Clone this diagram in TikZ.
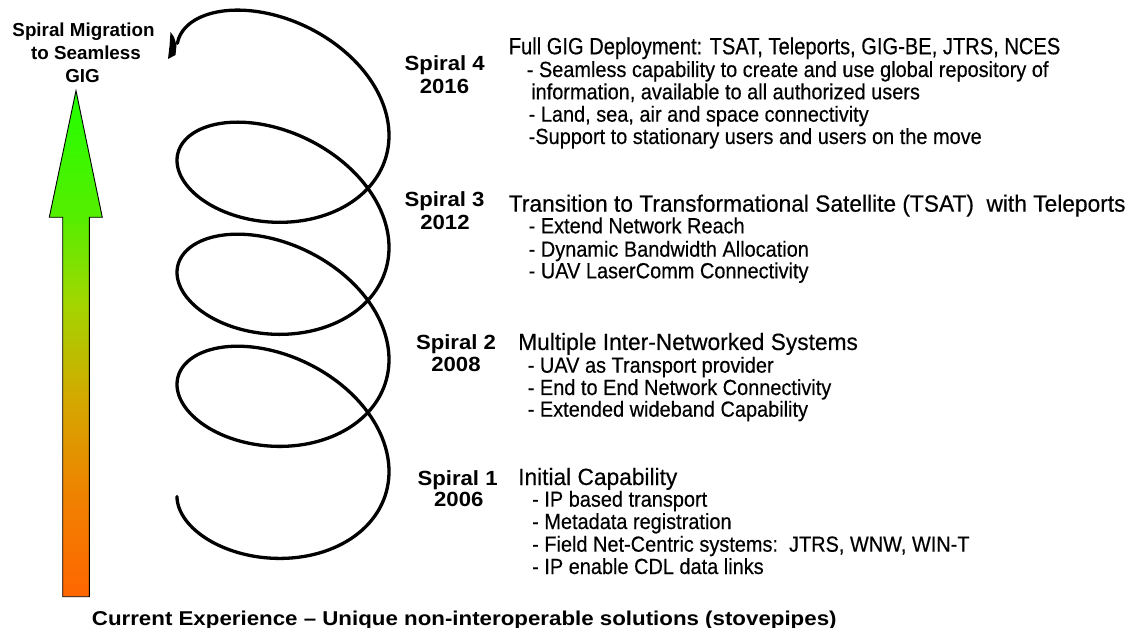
\documentclass[tikz,border=0pt]{standalone}
\usepackage{fontspec}
\setmainfont{Liberation Sans}
\newfontfamily\regf[FakeStretch=0.91,FakeBold=0.35]{Liberation Sans}
\newfontfamily\ttlf[FakeStretch=0.967,FakeBold=0.35]{Liberation Sans}
\newfontfamily\ttlnf[FakeStretch=0.856,FakeBold=0.35]{Liberation Sans}
\newfontfamily\labf[FakeStretch=1.08]{Liberation Sans Bold}
\newfontfamily\botf[FakeStretch=1.115]{Liberation Sans Bold}
\newfontfamily\migf{Liberation Sans Bold}
\definecolor{cA}{RGB}{255,102,0}
\definecolor{cB}{RGB}{240,128,0}
\definecolor{cC}{RGB}{212,168,0}
\definecolor{cD}{RGB}{160,215,0}
\definecolor{cE}{RGB}{85,238,0}
\definecolor{cF}{RGB}{34,255,0}
\pgfdeclareverticalshading{arrowshade}{100bp}{color(0bp)=(cA); color(25bp)=(cA); color(34.6bp)=(cB); color(44.5bp)=(cC); color(54.3bp)=(cD); color(62.5bp)=(cE); color(75bp)=(cF); color(100bp)=(cF)}
\tikzset{
  lab/.style={font=\labf\fontsize{20.5}{22}\selectfont, anchor=base, inner sep=0pt},
  ttl/.style={font=\ttlf\fontsize{23.5}{26}\selectfont, anchor=base west, inner sep=0pt},
  ttln/.style={font=\ttlnf\fontsize{23.5}{26}\selectfont, anchor=base west, inner sep=0pt},
  itm/.style={font=\regf\fontsize{21.9}{24}\selectfont, anchor=base west, inner sep=0pt},
  mig/.style={font=\migf\fontsize{18.8}{21}\selectfont, anchor=base, inner sep=0pt},
  bot/.style={font=\botf\fontsize{20}{22}\selectfont, anchor=base west, inner sep=0pt},
  helix/.style={line width=3.3pt, line cap=round, line join=round},
}
\begin{document}
\begin{tikzpicture}[x=1pt, y=-1pt]
\fill[white] (0,0) rectangle (1128,628);
\useasboundingbox (0,0) rectangle (1128,628);

% progress arrow
\shade[shading=arrowshade, draw=black, line width=0.9pt]
  (76,90.7) -- (102.3,217.3) -- (89.3,217.3) -- (89.3,596.7) -- (62.7,596.7) -- (62.7,217.3) -- (49.3,217.3) -- cycle;

% helix
\draw[helix, domain=0:25.05, samples=500, smooth, variable=\t]
  plot ({283-106*cos(\t r)}, {512-17.83*\t+76*sin((\t-0.206) r)});
\fill (170.5,32) -- (174,37) -- (176.5,45) -- (175.5,55) -- (168,59) -- (169.5,46) -- cycle;

% left title
\node[mig] (m1) at (83.5,36.7) {Spiral Migration};
\node[mig] (m2) at (86,60) {to Seamless};
\node[mig] (m3) at (82.5,82.7) {GIG};

% spiral labels
\node[lab] (s4) at (444.7,71) {Spiral 4};
\node[lab] (y4) at (444.5,93.3) {2016};
\node[lab] (s3) at (444.5,206.7) {Spiral 3};
\node[lab] (y3) at (445,229.3) {2012};
\node[lab] (s2) at (456,350) {Spiral 2};
\node[lab] (y2) at (456,371.7) {2008};
\node[lab] (s1) at (457.6,485) {Spiral 1};
\node[lab] (y1) at (458.8,506.7) {2006};

% spiral 4
\node[ttln] (t4) at (508.6,54.3) {Full GIG Deployment: TSAT, Teleports, GIG-BE, JTRS, NCES};
\node[itm] (i4a) at (526.6,77) {- Seamless capability to create and use global repository of};
\node[itm] (i4b) at (531,99.3) {information, available to all authorized users};
\node[itm] (i4c) at (528.5,121.7) {- Land, sea, air and space connectivity};
\node[itm] (i4d) at (528.5,144) {-Support to stationary users and users on the move};

% spiral 3
\node[ttl] (t3) at (508.6,211.7) {Transition to Transformational Satellite (TSAT)\ \ with Teleports};
\node[itm] (i3a) at (528.5,233.3) {- Extend Network Reach};
\node[itm] (i3b) at (528.5,256.7) {- Dynamic Bandwidth Allocation};
\node[itm] (i3c) at (528.5,278.3) {- UAV LaserComm Connectivity};

% spiral 2
\node[ttl] (t2) at (518,350) {Multiple Inter-Networked Systems};
\node[itm] (i2a) at (527.6,372.7) {- UAV as Transport provider};
\node[itm] (i2b) at (527.6,395) {- End to End Network Connectivity};
\node[itm] (i2c) at (527.6,416.7) {- Extended wideband Capability};

% spiral 1
\node[ttl] (t1) at (518,485) {Initial Capability};
\node[itm] (i1a) at (532,506.7) {- IP based transport};
\node[itm] (i1b) at (532,529) {- Metadata registration};
\node[itm] (i1c) at (532,551.7) {- Field Net-Centric systems:\ \ JTRS, WNW, WIN-T};
\node[itm] (i1d) at (532,574) {- IP enable CDL data links};

% bottom caption
\node[bot] (cap) at (91.7,625) {Current Experience – Unique non-interoperable solutions (stovepipes)};
\end{tikzpicture}
\end{document}
